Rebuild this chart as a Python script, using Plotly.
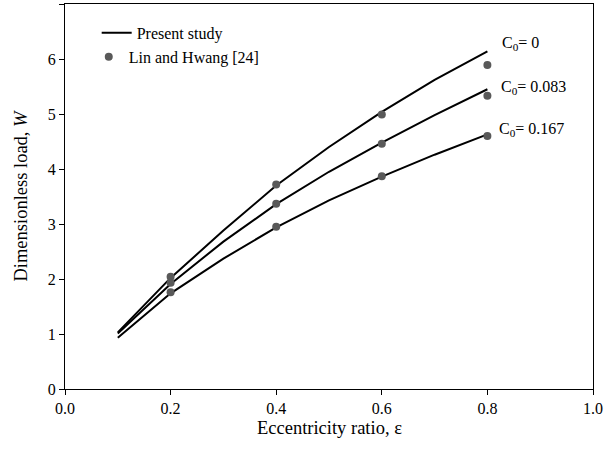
import plotly.graph_objects as go

eps_line = [0.1, 0.2, 0.3, 0.4, 0.5, 0.6, 0.7, 0.8]
w_c0_0 = [1.03, 2.02, 2.88, 3.70, 4.40, 5.04, 5.62, 6.14]
w_c0_083 = [1.01, 1.91, 2.68, 3.36, 3.95, 4.48, 4.98, 5.45]
w_c0_167 = [0.93, 1.74, 2.37, 2.94, 3.43, 3.86, 4.26, 4.63]

eps_pts = [0.2, 0.4, 0.6, 0.8]
lh_c0_0 = [2.04, 3.72, 4.99, 5.89]
lh_c0_083 = [1.93, 3.37, 4.46, 5.33]
lh_c0_167 = [1.76, 2.95, 3.87, 4.60]

curve_labels = ["C<sub>0</sub>= 0", "C<sub>0</sub>= 0.083", "C<sub>0</sub>= 0.167"]
label_pos = [(0.824, 6.29), (0.822, 5.48), (0.819, 4.71)]

x_ticks = [0.0, 0.2, 0.4, 0.6, 0.8, 1.0]
x_ticklabels = ["0.0", "0.2", "0.4", "0.6", "0.8", "1.0"]
y_ticks = [0, 1, 2, 3, 4, 5, 6, 7]

x_title = "Eccentricity ratio, ε"
y_title = "Dimensionless load, <i>W</i>"

FONT = "Liberation Serif, Times New Roman, serif"
FS = 16
FS_TICK = 16
FS_TITLE = 18.5

fig = go.Figure()
for i, ys in enumerate([w_c0_0, w_c0_083, w_c0_167]):
    fig.add_trace(go.Scatter(
        x=eps_line, y=ys, mode="lines",
        line=dict(color="black", width=2),
        name="Present study", showlegend=(i == 0), legend="legend"))
for i, ys in enumerate([lh_c0_0, lh_c0_083, lh_c0_167]):
    fig.add_trace(go.Scatter(
        x=eps_pts, y=ys, mode="markers",
        marker=dict(color="#595959", size=8),
        name="Lin and Hwang [24]", showlegend=(i == 0), legend="legend2"))

for txt, (lx, ly) in zip(curve_labels, label_pos):
    fig.add_annotation(x=lx, y=ly, text=txt, showarrow=False,
                       xanchor="left", yanchor="middle",
                       font=dict(family=FONT, size=FS, color="black"))

fig.add_annotation(x=0.5, y=-0.102, xref="paper", yref="paper",
                   text=x_title, showarrow=False,
                   xanchor="center", yanchor="middle",
                   font=dict(family=FONT, size=FS_TITLE, color="black"))

fig.update_layout(
    width=612, height=457,
    margin=dict(l=65, r=19, t=4, b=68),
    paper_bgcolor="white", plot_bgcolor="white",
    font=dict(family=FONT, size=FS, color="black"),
    showlegend=True,
    legend=dict(x=0.060, y=0.969, xanchor="left", yanchor="top",
                bgcolor="rgba(0,0,0,0)", font=dict(family=FONT, size=FS)),
    legend2=dict(x=0.045, y=0.907, xanchor="left", yanchor="top",
                 bgcolor="rgba(0,0,0,0)", font=dict(family=FONT, size=FS)),
    xaxis=dict(range=[0, 1.0], tickvals=x_ticks, ticktext=x_ticklabels,
               ticks="outside", ticklen=5, tickcolor="black",
               tickfont=dict(family=FONT, size=FS_TICK),
               showline=True, linecolor="black", linewidth=1, mirror=True,
               showgrid=False, zeroline=False),
    yaxis=dict(range=[0, 7], tickvals=y_ticks,
               ticks="outside", ticklen=5, tickcolor="black",
               tickfont=dict(family=FONT, size=FS_TICK),
               showline=True, linecolor="black", linewidth=1, mirror=True,
               showgrid=False, zeroline=False,
               title=dict(text=y_title, standoff=15,
                          font=dict(family=FONT, size=FS_TITLE))),
)

fig.write_html("out.html")
